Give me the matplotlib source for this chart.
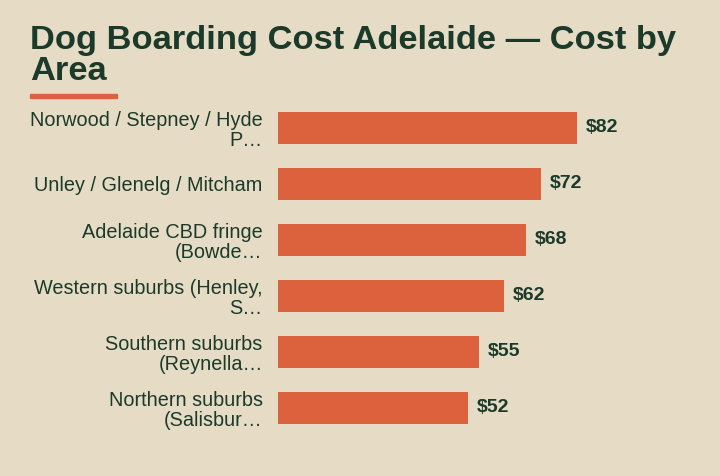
import matplotlib.pyplot as plt
from matplotlib.patches import Rectangle

plt.rcParams["font.family"] = ["Liberation Sans", "DejaVu Sans"]

BG = "#e6dcc5"
GREEN = "#1c3a2a"
ORANGE = "#dc623e"

areas = [
    "Norwood / Stepney / Hyde\nP…",
    "Unley / Glenelg / Mitcham",
    "Adelaide CBD fringe\n(Bowde…",
    "Western suburbs (Henley,\nS…",
    "Southern suburbs\n(Reynella…",
    "Northern suburbs\n(Salisbur…",
]
costs = [82, 72, 68, 62, 55, 52]

fig = plt.figure(figsize=(7.2, 4.76), dpi=100, facecolor=BG)
ax = fig.add_axes([278 / 720, 1 - 436 / 476, 412 / 720, 336 / 476])
ax.set_facecolor(BG)

ypos = list(range(len(areas)))
ax.barh(ypos, costs, height=0.56, color=ORANGE)
ax.set_ylim(len(areas) - 0.5, -0.5)
ax.set_xlim(0, 113)
for y, v in zip(ypos, costs):
    ax.text(v + 2.5, y, f"${v}", va="center", ha="left",
            fontsize=14, fontweight="bold", color=GREEN)

ax.set_yticks(ypos)
ax.set_yticklabels(areas, fontsize=14.3, color=GREEN, linespacing=1.05)
ax.tick_params(axis="y", length=0, pad=11)
ax.set_xticks([])
for s in ax.spines.values():
    s.set_visible(False)

fig.text(30 / 720, 1 - 56 / 476, "Dog Boarding Cost Adelaide — Cost by\nArea",
         ha="left", va="center", fontsize=24.8, fontweight="bold", color=GREEN,
         linespacing=1.0)
fig.add_artist(Rectangle((30 / 720, 1 - 98 / 476), 87 / 720, 4 / 476,
                         transform=fig.transFigure, color=ORANGE))

fig.savefig("out.png", dpi=100, facecolor=BG)
